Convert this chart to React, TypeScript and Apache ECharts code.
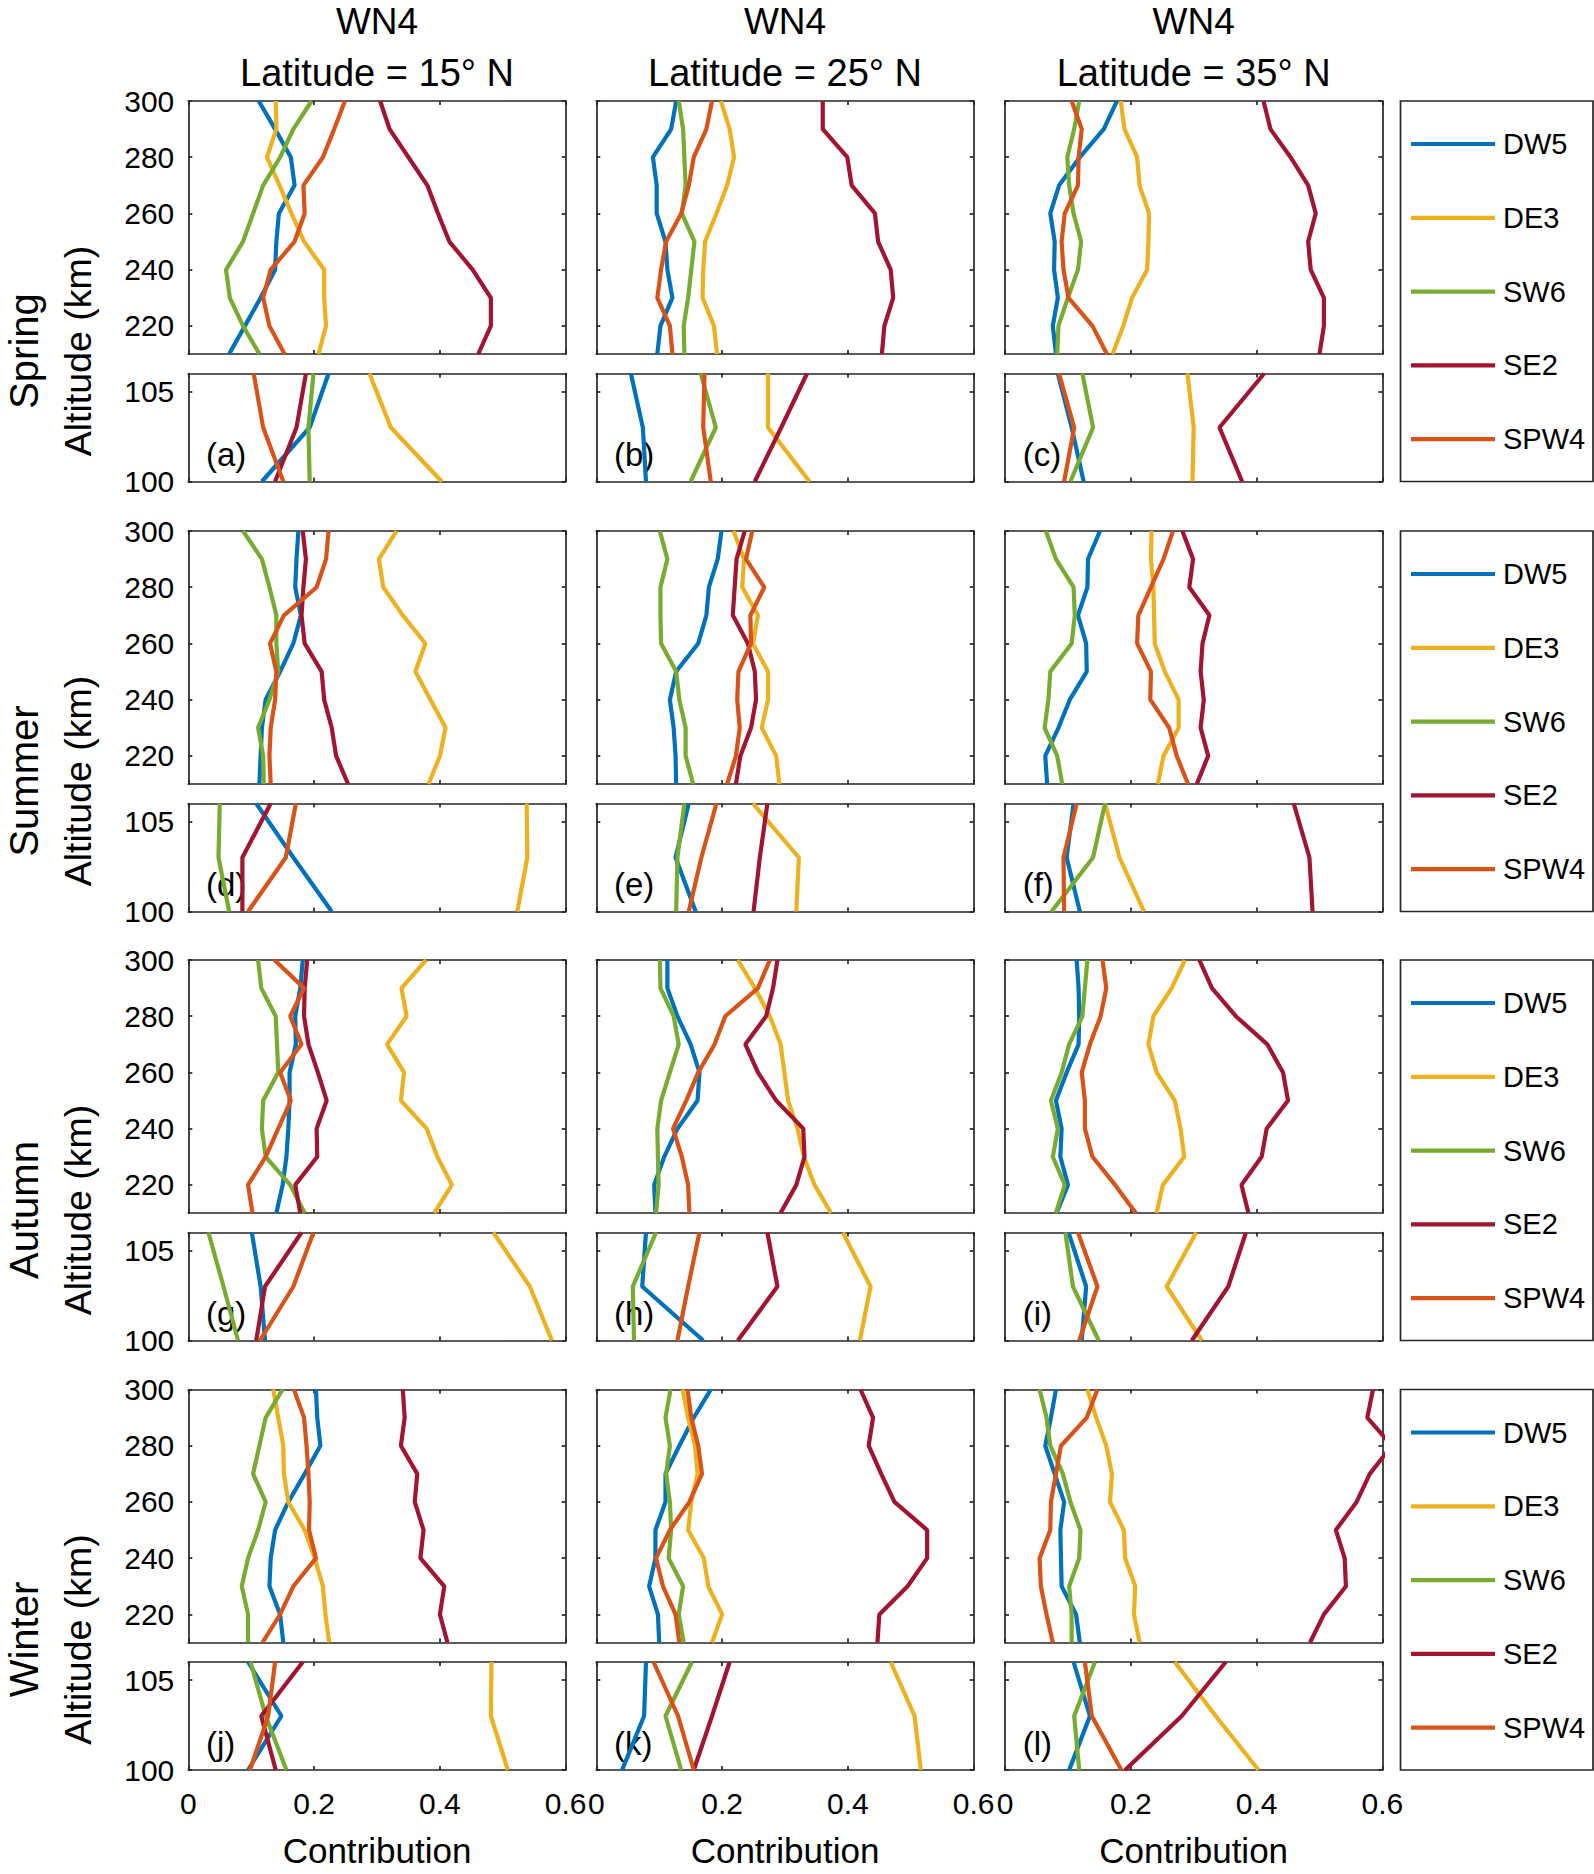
import React, { useEffect, useRef } from "react";
import * as echarts from "echarts";

const SERIES_NAMES = ["DW5", "DE3", "SW6", "SE2", "SPW4"];
const SERIES_COLORS = ["#0072BD", "#EDB120", "#77AC30", "#A2142F", "#D95319"];
const ALT_UPPER = [300, 290, 280, 270, 260, 250, 240, 230, 220, 210];
const ALT_LOWER = [106, 103, 100];
const SEASONS = ["Spring", "Summer", "Autumn", "Winter"];
const LATITUDES = [15, 25, 35];
const PANEL_LETTERS = ["a", "b", "c", "d", "e", "f", "g", "h", "i", "j", "k", "l"];
const UPPER_TICKS = [220, 240, 260, 280, 300];
const LOWER_TICKS = [100, 105];

// rows: DW5, DE3, SW6, SE2, SPW4 ; upper columns follow ALT_UPPER, lower follow ALT_LOWER
const A_UP = [
  [0.112, 0.138, 0.163, 0.169, 0.144, 0.140, 0.138, 0.115, 0.090, 0.065],
  [0.139, 0.140, 0.125, 0.145, 0.164, 0.184, 0.216, 0.216, 0.219, 0.207],
  [0.196, 0.167, 0.146, 0.119, 0.103, 0.087, 0.060, 0.066, 0.087, 0.113],
  [0.305, 0.320, 0.350, 0.380, 0.397, 0.415, 0.452, 0.481, 0.481, 0.461],
  [0.249, 0.232, 0.214, 0.183, 0.185, 0.169, 0.131, 0.119, 0.129, 0.153],
];
const A_LO = [
  [0.223, 0.193, 0.117],
  [0.288, 0.322, 0.403],
  [0.199, 0.191, 0.193],
  [0.187, 0.172, 0.138],
  [0.104, 0.119, 0.151],
];
const B_UP = [
  [0.127, 0.119, 0.090, 0.096, 0.096, 0.110, 0.113, 0.121, 0.102, 0.097],
  [0.198, 0.212, 0.219, 0.208, 0.191, 0.173, 0.170, 0.169, 0.187, 0.192],
  [0.131, 0.138, 0.140, 0.142, 0.136, 0.156, 0.151, 0.146, 0.139, 0.140],
  [0.360, 0.360, 0.399, 0.406, 0.443, 0.448, 0.468, 0.472, 0.458, 0.454],
  [0.184, 0.175, 0.155, 0.147, 0.135, 0.111, 0.103, 0.097, 0.117, 0.121],
];
const B_LO = [
  [0.055, 0.074, 0.079],
  [0.273, 0.273, 0.339],
  [0.166, 0.190, 0.150],
  [0.335, 0.294, 0.252],
  [0.172, 0.170, 0.182],
];
const C_UP = [
  [0.178, 0.157, 0.119, 0.086, 0.072, 0.079, 0.078, 0.084, 0.076, 0.081],
  [0.184, 0.190, 0.210, 0.214, 0.229, 0.228, 0.226, 0.202, 0.188, 0.171],
  [0.118, 0.110, 0.099, 0.102, 0.109, 0.121, 0.116, 0.100, 0.085, 0.083],
  [0.411, 0.422, 0.454, 0.482, 0.494, 0.482, 0.486, 0.507, 0.507, 0.500],
  [0.106, 0.122, 0.117, 0.116, 0.095, 0.090, 0.093, 0.101, 0.139, 0.162],
];
const C_LO = [
  [0.084, 0.106, 0.125],
  [0.290, 0.300, 0.298],
  [0.123, 0.140, 0.104],
  [0.412, 0.341, 0.377],
  [0.086, 0.110, 0.094],
];
const D_UP = [
  [0.175, 0.172, 0.170, 0.179, 0.167, 0.146, 0.123, 0.117, 0.115, 0.113],
  [0.331, 0.303, 0.310, 0.341, 0.377, 0.361, 0.385, 0.409, 0.400, 0.382],
  [0.087, 0.117, 0.129, 0.140, 0.140, 0.143, 0.129, 0.111, 0.119, 0.120],
  [0.182, 0.187, 0.183, 0.180, 0.185, 0.212, 0.216, 0.228, 0.235, 0.254],
  [0.223, 0.219, 0.204, 0.152, 0.130, 0.140, 0.138, 0.131, 0.129, 0.131],
];
const D_LO = [
  [0.108, 0.167, 0.228],
  [0.538, 0.539, 0.523],
  [0.050, 0.048, 0.065],
  [0.131, 0.086, 0.086],
  [0.171, 0.155, 0.095],
];
const E_UP = [
  [0.199, 0.193, 0.179, 0.175, 0.162, 0.127, 0.117, 0.123, 0.126, 0.127],
  [0.218, 0.235, 0.232, 0.257, 0.249, 0.273, 0.273, 0.263, 0.286, 0.291],
  [0.101, 0.113, 0.102, 0.102, 0.103, 0.127, 0.132, 0.142, 0.142, 0.154],
  [0.236, 0.223, 0.220, 0.217, 0.241, 0.252, 0.254, 0.246, 0.229, 0.222],
  [0.248, 0.238, 0.267, 0.245, 0.246, 0.226, 0.224, 0.228, 0.222, 0.208],
];
const E_LO = [
  [0.147, 0.126, 0.158],
  [0.249, 0.322, 0.318],
  [0.140, 0.129, 0.127],
  [0.272, 0.260, 0.250],
  [0.191, 0.167, 0.147],
];
const F_UP = [
  [0.151, 0.132, 0.131, 0.116, 0.129, 0.130, 0.103, 0.085, 0.064, 0.067],
  [0.233, 0.232, 0.236, 0.237, 0.238, 0.254, 0.276, 0.276, 0.252, 0.243],
  [0.065, 0.081, 0.109, 0.111, 0.106, 0.072, 0.069, 0.063, 0.083, 0.091],
  [0.282, 0.299, 0.293, 0.325, 0.314, 0.311, 0.316, 0.311, 0.323, 0.305],
  [0.267, 0.252, 0.232, 0.212, 0.210, 0.232, 0.231, 0.261, 0.273, 0.291],
];
const F_LO = [
  [0.109, 0.098, 0.119],
  [0.159, 0.182, 0.221],
  [0.159, 0.140, 0.074],
  [0.459, 0.484, 0.489],
  [0.114, 0.093, 0.094],
];
const G_UP = [
  [0.182, 0.178, 0.170, 0.171, 0.161, 0.161, 0.159, 0.156, 0.150, 0.140],
  [0.378, 0.339, 0.347, 0.316, 0.343, 0.338, 0.379, 0.396, 0.419, 0.391],
  [0.111, 0.116, 0.139, 0.141, 0.143, 0.119, 0.117, 0.123, 0.162, 0.185],
  [0.189, 0.185, 0.184, 0.191, 0.206, 0.220, 0.204, 0.205, 0.170, 0.178],
  [0.137, 0.184, 0.162, 0.180, 0.146, 0.163, 0.143, 0.123, 0.095, 0.102],
];
const G_LO = [
  [0.101, 0.115, 0.122],
  [0.485, 0.543, 0.578],
  [0.032, 0.056, 0.079],
  [0.180, 0.122, 0.108],
  [0.199, 0.167, 0.114],
];
const H_UP = [
  [0.113, 0.113, 0.129, 0.150, 0.164, 0.161, 0.129, 0.108, 0.092, 0.094],
  [0.225, 0.252, 0.276, 0.293, 0.299, 0.305, 0.320, 0.330, 0.347, 0.373],
  [0.101, 0.102, 0.123, 0.131, 0.117, 0.103, 0.097, 0.098, 0.099, 0.095],
  [0.288, 0.281, 0.270, 0.237, 0.257, 0.286, 0.329, 0.331, 0.318, 0.293],
  [0.276, 0.257, 0.205, 0.188, 0.162, 0.143, 0.122, 0.136, 0.146, 0.148],
];
const H_LO = [
  [0.079, 0.073, 0.170],
  [0.392, 0.436, 0.419],
  [0.095, 0.058, 0.060],
  [0.272, 0.288, 0.225],
  [0.164, 0.146, 0.129],
];
const I_UP = [
  [0.114, 0.117, 0.118, 0.117, 0.098, 0.081, 0.090, 0.088, 0.100, 0.082],
  [0.286, 0.265, 0.236, 0.228, 0.241, 0.270, 0.279, 0.285, 0.251, 0.241],
  [0.131, 0.127, 0.123, 0.102, 0.090, 0.073, 0.084, 0.076, 0.095, 0.081],
  [0.309, 0.329, 0.367, 0.417, 0.442, 0.450, 0.416, 0.408, 0.376, 0.387],
  [0.155, 0.161, 0.152, 0.135, 0.122, 0.127, 0.127, 0.139, 0.175, 0.208],
];
const I_LO = [
  [0.101, 0.129, 0.122],
  [0.304, 0.257, 0.313],
  [0.096, 0.108, 0.149],
  [0.383, 0.355, 0.297],
  [0.116, 0.147, 0.118],
];
const J_UP = [
  [0.203, 0.205, 0.210, 0.185, 0.159, 0.138, 0.131, 0.129, 0.146, 0.151],
  [0.135, 0.143, 0.151, 0.152, 0.159, 0.185, 0.201, 0.214, 0.218, 0.224],
  [0.150, 0.123, 0.113, 0.103, 0.123, 0.111, 0.095, 0.085, 0.095, 0.095],
  [0.341, 0.344, 0.338, 0.364, 0.360, 0.374, 0.369, 0.407, 0.400, 0.412],
  [0.168, 0.184, 0.188, 0.191, 0.193, 0.192, 0.203, 0.167, 0.146, 0.118],
];
const J_LO = [
  [0.095, 0.148, 0.095],
  [0.482, 0.481, 0.508],
  [0.099, 0.123, 0.156],
  [0.182, 0.116, 0.139],
  [0.138, 0.127, 0.098],
];
const K_UP = [
  [0.182, 0.155, 0.132, 0.110, 0.110, 0.094, 0.094, 0.084, 0.098, 0.100],
  [0.137, 0.146, 0.157, 0.161, 0.151, 0.146, 0.171, 0.178, 0.200, 0.184],
  [0.118, 0.110, 0.117, 0.111, 0.117, 0.119, 0.115, 0.138, 0.131, 0.139],
  [0.420, 0.440, 0.433, 0.453, 0.474, 0.526, 0.526, 0.495, 0.450, 0.447],
  [0.145, 0.151, 0.162, 0.168, 0.148, 0.117, 0.095, 0.106, 0.126, 0.132],
];
const K_LO = [
  [0.079, 0.076, 0.041],
  [0.468, 0.506, 0.516],
  [0.152, 0.110, 0.135],
  [0.212, 0.184, 0.155],
  [0.091, 0.130, 0.155],
];
const L_UP = [
  [0.081, 0.073, 0.064, 0.079, 0.094, 0.088, 0.089, 0.090, 0.113, 0.119],
  [0.131, 0.145, 0.161, 0.170, 0.167, 0.189, 0.191, 0.207, 0.205, 0.214],
  [0.055, 0.066, 0.072, 0.092, 0.104, 0.120, 0.118, 0.102, 0.106, 0.106],
  [0.585, 0.576, 0.615, 0.580, 0.559, 0.526, 0.540, 0.542, 0.507, 0.485],
  [0.147, 0.130, 0.089, 0.081, 0.073, 0.072, 0.055, 0.057, 0.066, 0.076],
];
const L_LO = [
  [0.109, 0.135, 0.102],
  [0.270, 0.335, 0.403],
  [0.143, 0.110, 0.118],
  [0.351, 0.281, 0.191],
  [0.127, 0.138, 0.185],
];

const PANELS_UP = [A_UP, B_UP, C_UP, D_UP, E_UP, F_UP, G_UP, H_UP, I_UP, J_UP, K_UP, L_UP];
const PANELS_LO = [A_LO, B_LO, C_LO, D_LO, E_LO, F_LO, G_LO, H_LO, I_LO, J_LO, K_LO, L_LO];

export default function App() {
  const ref = useRef<HTMLDivElement>(null);

  useEffect(() => {
    if (!ref.current) return;
    const chart = echarts.init(ref.current, null, { renderer: "svg" });

    const FONT = "Liberation Sans, Arial, sans-serif";
    const AX = "#262626";
    const TXT = "#000000";
    const COL_LEFT = [188.3, 596.3, 1005];
    const COL_W = 377.4;
    const ROW_TOP = [101, 531, 960, 1389.5];
    const UP_H = 253;
    const LO_OFF = 272.5;
    const LO_H = 108;
    const LW = 4.2;

    const grids: any[] = [];
    const xAxes: any[] = [];
    const yAxes: any[] = [];
    const series: any[] = [];
    const graphics: any[] = [];

    const lineStyle = { color: AX, width: 1.7 };

    for (let r = 0; r < 4; r++) {
      for (let c = 0; c < 3; c++) {
        const p = r * 3 + c;
        for (let part = 0; part < 2; part++) {
          const g = grids.length;
          const top = part === 0 ? ROW_TOP[r] : ROW_TOP[r] + LO_OFF;
          const height = part === 0 ? UP_H : LO_H;
          grids.push({
            left: COL_LEFT[c],
            top,
            width: COL_W,
            height,
            containLabel: false,
            outerBoundsMode: "none",
            show: false,
          });
          const showX = r === 3 && part === 1;
          const xBase = {
            type: "value",
            gridIndex: g,
            min: 0,
            max: 0.6,
            interval: 0.2,
            splitLine: { show: false },
            axisLine: { show: true, onZero: false, lineStyle },
            axisTick: { show: true, inside: true, length: 4, lineStyle },
          };
          xAxes.push({
            ...xBase,
            position: "bottom",
            axisLabel: {
              show: showX,
              margin: 18,
              fontSize: 30,
              fontFamily: FONT,
              color: TXT,
              formatter: (v: number) => (Math.abs(v) < 1e-9 ? "0" : v.toFixed(1)),
            },
          });
          xAxes.push({ ...xBase, position: "top", axisLabel: { show: false } });

          const ticks = part === 0 ? UPPER_TICKS : LOWER_TICKS;
          const yBase = {
            type: "value",
            gridIndex: g,
            min: part === 0 ? 210 : 100,
            max: part === 0 ? 300 : 106,
            splitLine: { show: false },
            axisLine: { show: true, onZero: false, lineStyle },
            axisTick: { show: true, inside: true, length: 4, lineStyle, customValues: ticks },
          };
          yAxes.push({
            ...yBase,
            position: "left",
            axisLabel: {
              show: c === 0,
              customValues: ticks,
              margin: 14,
              fontSize: 30,
              fontFamily: FONT,
              color: TXT,
            },
          });
          yAxes.push({ ...yBase, position: "right", axisLabel: { show: false } });

          const vals = part === 0 ? PANELS_UP[p] : PANELS_LO[p];
          const alts = part === 0 ? ALT_UPPER : ALT_LOWER;
          SERIES_NAMES.forEach((name, s) => {
            series.push({
              type: "line",
              name,
              xAxisIndex: 2 * g,
              yAxisIndex: 2 * g,
              data: vals[s].map((v, i) => [v, alts[i]]),
              symbol: "none",
              showSymbol: false,
              clip: true,
              silent: true,
              z: 2 + s,
              lineStyle: { color: SERIES_COLORS[s], width: LW },
              itemStyle: { color: SERIES_COLORS[s] },
            });
          });
        }
        // panel letter
        graphics.push({
          type: "text",
          x: COL_LEFT[c] + 17.7,
          y: ROW_TOP[r] + LO_OFF + LO_H - 27,
          style: {
            text: `(${PANEL_LETTERS[p]})`,
            font: `33px ${FONT}`,
            fill: TXT,
            align: "left",
            verticalAlign: "middle",
          },
        });
      }
      // row labels
      const rowCenter = ROW_TOP[r] + 250;
      graphics.push({
        type: "text",
        x: 24,
        y: rowCenter,
        rotation: Math.PI / 2,
        style: {
          text: SEASONS[r],
          font: `40px ${FONT}`,
          fill: TXT,
          align: "center",
          verticalAlign: "middle",
        },
      });
      graphics.push({
        type: "text",
        x: 78,
        y: rowCenter,
        rotation: Math.PI / 2,
        style: {
          text: "Altitude (km)",
          font: `37.5px ${FONT}`,
          fill: TXT,
          align: "center",
          verticalAlign: "middle",
        },
      });
      // legend box
      graphics.push({
        type: "rect",
        shape: { x: 1400.5, y: ROW_TOP[r], width: 192.5, height: LO_OFF + LO_H },
        style: { fill: "#ffffff", stroke: AX, lineWidth: 1.7 },
      });
      SERIES_NAMES.forEach((name, s) => {
        const y = ROW_TOP[r] + 43 + s * 73.8;
        graphics.push({
          type: "line",
          shape: { x1: 1411, y1: y, x2: 1495, y2: y },
          style: { stroke: SERIES_COLORS[s], lineWidth: LW },
        });
        graphics.push({
          type: "text",
          x: 1503,
          y,
          style: {
            text: name,
            font: `29px ${FONT}`,
            fill: TXT,
            align: "left",
            verticalAlign: "middle",
          },
        });
      });
    }

    // column titles and x labels
    for (let c = 0; c < 3; c++) {
      const cx = COL_LEFT[c] + COL_W / 2;
      graphics.push({
        type: "text",
        x: cx,
        y: 21.5,
        style: { text: "WN4", font: `37px ${FONT}`, fill: TXT, align: "center", verticalAlign: "middle" },
      });
      graphics.push({
        type: "text",
        x: cx,
        y: 73,
        style: {
          text: `Latitude = ${LATITUDES[c]}° N`,
          font: `38px ${FONT}`,
          fill: TXT,
          align: "center",
          verticalAlign: "middle",
        },
      });
      graphics.push({
        type: "text",
        x: cx,
        y: 1850,
        style: { text: "Contribution", font: `35px ${FONT}`, fill: TXT, align: "center", verticalAlign: "middle" },
      });
    }

    chart.setOption({
      animation: false,
      backgroundColor: "#ffffff",
      textStyle: { fontFamily: FONT, color: TXT },
      grid: grids,
      xAxis: xAxes,
      yAxis: yAxes,
      series,
      graphic: { elements: graphics },
    });

    return () => {
      chart.dispose();
    };
  }, []);

  return (
    <div
      ref={ref}
      style={{ position: "absolute", left: 0, top: 0, width: 1594, height: 1874, background: "#fff" }}
    />
  );
}
